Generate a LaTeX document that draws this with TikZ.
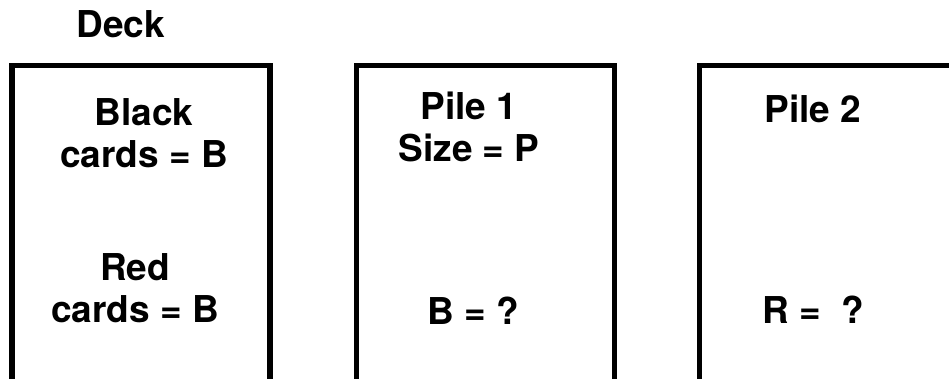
\documentclass[tikz,border=0pt]{standalone}
\usepackage{fontspec}
\setmainfont{TeX Gyre Heros}
\usepackage{tikz}
\tikzset{
  card/.style={draw, line width=5.5pt, minimum width=258pt, minimum height=316pt, inner sep=0pt},
  label/.style={font=\fontsize{37}{42}\selectfont\bfseries, align=center, anchor=base, inner sep=0pt}
}

\begin{document}
\begin{tikzpicture}[x=1pt, y=-1pt]
  \useasboundingbox (0,0) rectangle (949,379);

  % Cards
  \node[card] (deck) at (141,223.5) {};
  \node[card] (pile1) at (485.5,223.5) {};
  \node[card] (pile2) at (828.5,223.5) {};

  % Title
  \node[label] (title) at (121,38) {Deck};

  % Deck text
  \node[label] (black) at (144,168) {Black\\cards = B};
  \node[label] (red) at (135,322) {Red\\cards = B};

  % Pile text
  \node[label] (size) at (469,162) {Pile 1\\Size = P};
  \node[label] (bcount) at (473,324) {B = ?};
  \node[label] (name2) at (813,123) {Pile 2};
  \node[label] (rcount) at (813,323) {R = \ ?};
\end{tikzpicture}
\end{document}
